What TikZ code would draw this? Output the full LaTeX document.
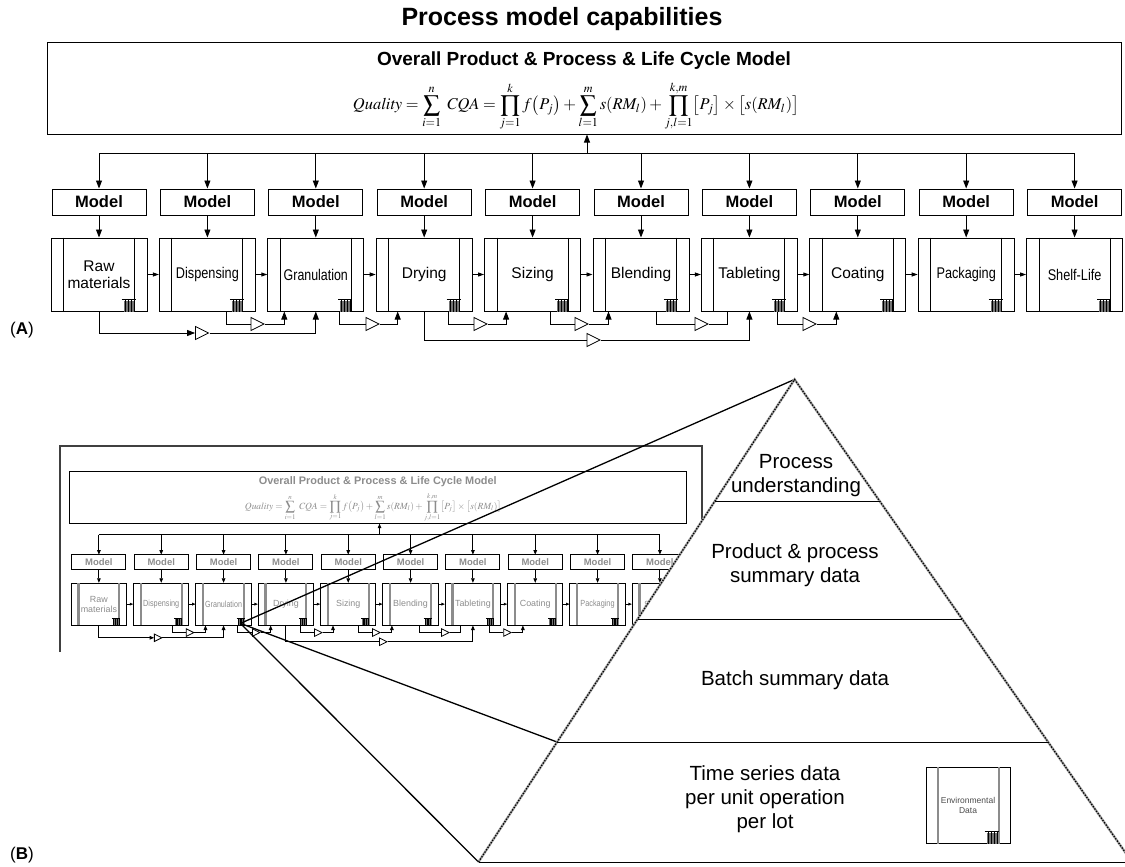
\documentclass[tikz,border=0pt]{standalone}
\usepackage{mathptmx}
\usepackage[no-math]{fontspec}
\setmainfont{Liberation Sans}
\usepackage{graphicx}
\usetikzlibrary{arrows.meta,shapes.geometric,calc}

\tikzset{
  boxline/.style={draw, line width=1pt},
  topbox/.style={boxline, minimum width=1074pt, minimum height=91pt, inner sep=0pt},
  modelbox/.style={boxline, minimum width=94pt, minimum height=26pt, inner sep=0pt,
    font=\bfseries\fontsize{16.5}{18}\selectfont},
  procbox/.style={boxline, minimum width=96pt, minimum height=73pt, inner sep=0pt,
    align=center, font=\fontsize{15.5}{17.5}\selectfont},
  wire/.style={line width=0.9pt},
  arr/.style={wire, -{Triangle[length=8pt,width=6pt]}},
  sarr/.style={wire, -{Triangle[length=6pt,width=4pt]}},
  amp/.style={draw, fill=white, line width=0.8pt, isosceles triangle,
    isosceles triangle stretches, minimum width=13pt, minimum height=13pt,
    inner sep=0pt, shape border rotate=0},
  tier/.style={font=\fontsize{20.5}{24}\selectfont, align=center},
}

% small radiator-like sensor glyph in the lower right corner of a unit box
\newcommand{\sensorglyph}[1]{%
  \fill[black!55] ($(#1.south east)+(-24,-11)$) rectangle ($(#1.south east)+(-13,0)$);
  \draw[line width=1.6pt] ($(#1.south east)+(-26,-12)$) -- ($(#1.south east)+(-12,-12)$);
  \foreach \k in {-22.5,-19.5,-16.5,-13.5}{%
    \draw[line width=1pt] ($(#1.south east)+(\k,-12)$) -- ($(#1.south east)+(\k,0)$);}%
}

% the process chain: #1 name prefix, #2 text colour, #3 strip width, #4 strip colour
\newcommand{\processchain}[4]{%
  \node[topbox] (#1top) at (584,88.5) {};
  \node[text=#2, font=\bfseries\fontsize{19}{21}\selectfont] (#1hdr) at (584,61)
    {Overall Product \& Process \& Life Cycle Model};
  \node[text=#2, inner sep=0pt] (#1eq) at (576,106) {\resizebox{446pt}{!}{$\displaystyle
    \mathit{Quality}=\sum_{i=1}^{n}\;\mathit{CQA}=\prod_{j=1}^{k} f\bigl(P_j\bigr)
    +\sum_{l=1}^{m} s(RM_l)+\prod_{j,l=1}^{k,m}\bigl[P_j\bigr]\times\bigl[s(RM_l)\bigr]$}};
  \coordinate (#1up) at (587,154);
  \foreach \i/\lab in {1/{Raw\\materials},2/{\scalebox{0.82}[1]{Dispensing}},
      3/{\scalebox{0.8}[1]{Granulation}},4/Drying,5/Sizing,6/Blending,7/Tableting,
      8/Coating,9/{\scalebox{0.82}[1]{Packaging}},10/{\scalebox{0.82}[1]{Shelf-Life}}}{%
    \pgfmathsetmacro{\cx}{99+108.4*(\i-1)}
    \node[modelbox, text=#2] (#1m\i) at (\cx,202) {Model};
    \node[procbox, text=#2] (#1p\i) at (\cx,274.5) {\lab};
    \draw[line width=#3, draw=#4]
      ($(#1p\i.north west)+(13,0)$) -- ($(#1p\i.south west)+(13,0)$)
      ($(#1p\i.north east)+(-13,0)$) -- ($(#1p\i.south east)+(-13,0)$);
    \draw[arr] ($(#1m\i.north)+(0,-35)$) -- (#1m\i.north);
    \draw[arr] (#1m\i.south) -- (#1p\i.north);
    \sensorglyph{#1p\i}
  }
  \foreach \i in {1,...,9}{%
    \pgfmathtruncatemacro{\j}{\i+1}
    \draw[sarr] (#1p\i.east) -- (#1p\j.west);
  }
  \draw[wire] ($(#1m1.north)+(0,-35)$) -- ($(#1m10.north)+(0,-35)$);
  \draw[arr] (#1up) -- (#1up |- #1top.south);
  % feed-forward links through the amplifiers
  \node[amp] (#1a1) at (199.5,333) {};
  \draw[arr] (#1p1.south) |- (#1a1.west);
  \draw[arr] (#1a1.east) -| (#1p3.south);
  \node[amp] (#1a2) at (255,324) {};
  \draw[wire] ($(#1p2.south east)+(-29,0)$) |- (#1a2.west);
  \draw[arr] (#1a2.east) -| ($(#1p3.south west)+(17,0)$);
  \node[amp] (#1a3) at (370,324) {};
  \draw[wire] ($(#1p3.south east)+(-25,0)$) |- (#1a3.west);
  \draw[arr] (#1a3.east) -| ($(#1p4.south west)+(22,0)$);
  \node[amp] (#1a4) at (478,324) {};
  \draw[wire] ($(#1p4.south east)+(-24,0)$) |- (#1a4.west);
  \draw[arr] (#1a4.east) -| ($(#1p5.south west)+(22,0)$);
  \node[amp] (#1a8) at (591,340) {};
  \draw[wire] (#1p4.south) |- (#1a8.west);
  \draw[arr] (#1a8.east) -| (#1p7.south);
  \node[amp] (#1a5) at (579,324) {};
  \draw[wire] ($(#1p5.south east)+(-31,0)$) |- (#1a5.west);
  \draw[arr] (#1a5.east) -| ($(#1p6.south west)+(16,0)$);
  \node[amp] (#1a6) at (699,324) {};
  \draw[wire] ($(#1p6.south east)+(-33,0)$) |- (#1a6.west);
  \draw[wire] (#1a6.east) -| ($(#1p7.south west)+(27,0)$);
  \node[amp] (#1a7) at (807,324) {};
  \draw[wire] ($(#1p7.south east)+(-20,0)$) |- (#1a7.west);
  \draw[arr] (#1a7.east) -| ($(#1p8.south west)+(27,0)$);
}

\begin{document}
\begin{tikzpicture}[x=1pt,y=-1pt]
\useasboundingbox (0,0) rectangle (1125,867);

\node[font=\bfseries\fontsize{25}{28}\selectfont] (title) at (562,19) {Process model capabilities};

% (A) full-size process chain
\processchain{}{black}{0.9pt}{black}
\node[font=\fontsize{17}{19}\selectfont] (labA) at (22,330) {(\textbf{A})};

% (B) reduced copy of the chain
\draw[line width=1.6pt, black!75] (60,652) -- (60,446) -- (702,446) -- (702,652);
\begin{scope}[shift={(41.975,446.275)}, scale=0.575, transform shape,
    arr/.style={wire, -{Triangle[length=4.6pt,width=3.6pt]}},
    sarr/.style={wire, -{Triangle[length=3.6pt,width=2.6pt]}}]
  \processchain{t}{black!45}{2.2pt}{black!45}
\end{scope}

% zoom lines from the sensor of the granulation unit
\coordinate (focus) at ($(tp3.south east)+(-11,-2)$);
\coordinate (apex) at (794.6,379.4);
\coordinate (bl) at (478.5,862);
\coordinate (br) at (1132,862);
\coordinate (d1l) at ($(apex)!0.2520!(bl)$);
\coordinate (d1r) at ($(apex)!0.2520!(br)$);
\coordinate (d2l) at ($(apex)!0.4965!(bl)$);
\coordinate (d2r) at ($(apex)!0.4965!(br)$);
\coordinate (d3l) at ($(apex)!0.7514!(bl)$);
\coordinate (d3r) at ($(apex)!0.7514!(br)$);
\draw[line width=1.3pt] (focus) -- (apex);
\draw[line width=1.3pt] (focus) -- (d3l);
\draw[line width=1.3pt] (focus) -- (bl);

% data pyramid
\fill[white] (apex) -- (bl) -- (br) -- cycle;
\draw[line width=2.4pt, black!35] (bl) -- (apex) -- (br);
\draw[line width=1.2pt, dash pattern=on 1.4pt off 1.4pt] (bl) -- (apex) -- (br);
\draw[line width=1pt] (bl) -- (br);
\draw[line width=1pt] (d1l) -- (d1r);
\draw[line width=1pt] (d2l) -- (d2r);
\draw[line width=1pt] (d3l) -- (d3r);

\node[tier] (tier1) at (796,476) {Process\\understanding};
\node[tier] (tier2) at (795,565) {Product \& process\\summary data};
\node[tier] (tier3) at (795,680) {Batch summary data};
\node[tier] (tier4) at (765,799) {Time series data\\per unit operation\\per lot};

\node[procbox, minimum width=84pt, minimum height=76pt, text=black!70,
  font=\fontsize{8.5}{10}\selectfont] (env) at (968,805) {Environmental\\Data};
\draw[line width=2pt, black!45]
  ($(env.north west)+(12,0)$) -- ($(env.south west)+(12,0)$)
  ($(env.north east)+(-12,0)$) -- ($(env.south east)+(-12,0)$);
\sensorglyph{env}

\node[font=\fontsize{17}{19}\selectfont] (labB) at (22,855) {(\textbf{B})};
\end{tikzpicture}
\end{document}
